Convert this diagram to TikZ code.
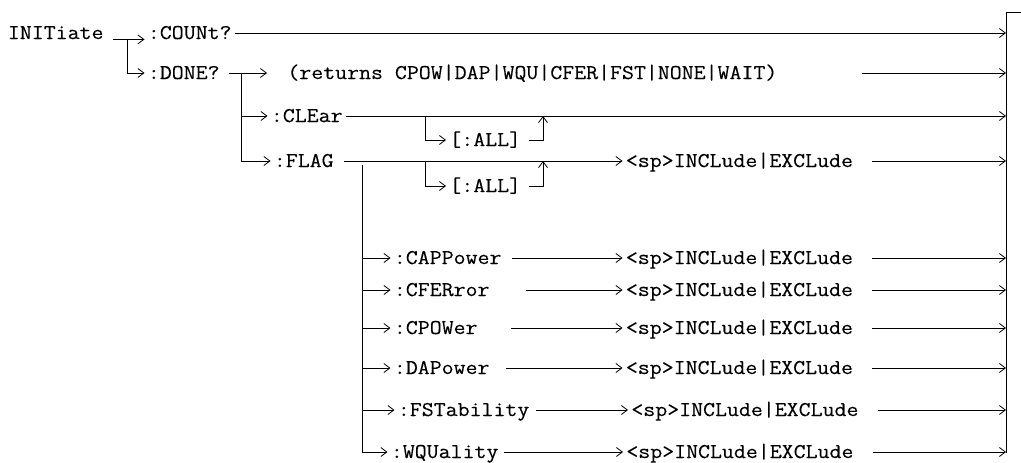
\documentclass[tikz,border=0pt]{standalone}
\usepackage{fontspec}
\setmonofont{Latin Modern Mono}[FakeStretch=1.105, FakeBold=0.25]
\usetikzlibrary{arrows.meta}
\begin{document}
\begin{tikzpicture}[x=1pt, y=-1pt, line width=0.8pt,
        >={Straight Barb[length=6pt,width=9pt]},
        cmd/.style={anchor=west, inner xsep=3pt, inner ysep=0pt,
            text height=12pt, text depth=0pt,
            font=\ttfamily\fontsize{21}{25}\selectfont}]
            \useasboundingbox (0,0) rectangle (1021,463);

            \coordinate (railtop) at (1006,12);
            \coordinate (railbot) at (1006,453);
            \draw (railbot) -- (railtop) -- ++(15,0);

            \node[cmd] (init) at (4.5,33) {INITiate};
            \node[cmd] (count) at (144.5,33) {:COUNt?};
            \node[cmd] (done) at (144.5,73) {:DONE?};
            \node[cmd] (returns) at (284,73) {(returns CPOW|DAP|WQU|CFER|FST|NONE|WAIT)};
            \node[cmd] (clear) at (267.5,116) {:CLEar};
            \node[cmd] (flag) at (270.5,161) {:FLAG};
            \node[cmd] (allA) at (446,140) {[:ALL]};
            \node[cmd] (allB) at (446,186) {[:ALL]};
            \node[cmd] (iflag) at (622.5,161) {<sp>INCLude|EXCLude};

            \coordinate (forkA) at (127,39);
            \coordinate (forkB) at (241,73);
            \coordinate (forkC) at (362,165);
            \coordinate (loopA) at (425,116);
            \coordinate (joinA) at (543,116);
            \coordinate (loopB) at (425,161);
            \coordinate (joinB) at (543,161);

            \draw[->] ([xshift=6pt]init.south east) -- (count.south west);
            \draw[->] (forkA) |- (done.west);
            \draw[->] (count.east) -- (count.east -| railtop);
            \draw[->, shorten >=17pt] ([xshift=6pt]done.east) -- (returns.west);
            \draw[->] ([xshift=81pt]returns.east) -- (returns.east -| railtop);
            \draw[->] (forkB) |- (clear.west);
            \draw[->] (forkB) |- (flag.west);
            \draw[->] (clear.east) -- (clear.east -| railtop);
            \draw[->] (loopA) |- (allA.west);
            \draw[->] ([xshift=4pt]allA.east) -| (joinA);
            \draw[->] ([xshift=7pt]flag.east) -- (iflag.west);
            \draw[->] (loopB) |- (allB.west);
            \draw[->] ([xshift=4pt]allB.east) -| (joinB);
            \draw[->] ([xshift=16pt]iflag.east) -- (iflag.east -| railtop);

            \foreach \nm/\txt/\yy/\xk/\gap/\xi in {cap/:CAPPower/258/390.5/7/622.5,
                    cfe/:CFERror/290/390.5/33/622.5, cpo/:CPOWer/328/390.5/30/622.5,
                    dap/:DAPower/368/390.5/13/622.5, fst/:FSTability/410/394.5/3/628,
                    wqu/:WQUality/452/387.5/2/623} {
                    \node[cmd] (\nm) at (\xk,\yy) {\txt};
                    \node[cmd] (i\nm) at (\xi,\yy) {<sp>INCLude|EXCLude};
                    \draw[->] (forkC) |- (\nm.west);
                    \draw[->] ([xshift=\gap]\nm.east) -- (i\nm.west);
                    \draw[->] ([xshift=16pt]i\nm.east) -- (i\nm.east -| railtop);
                }
        \end{tikzpicture}
\end{document}
